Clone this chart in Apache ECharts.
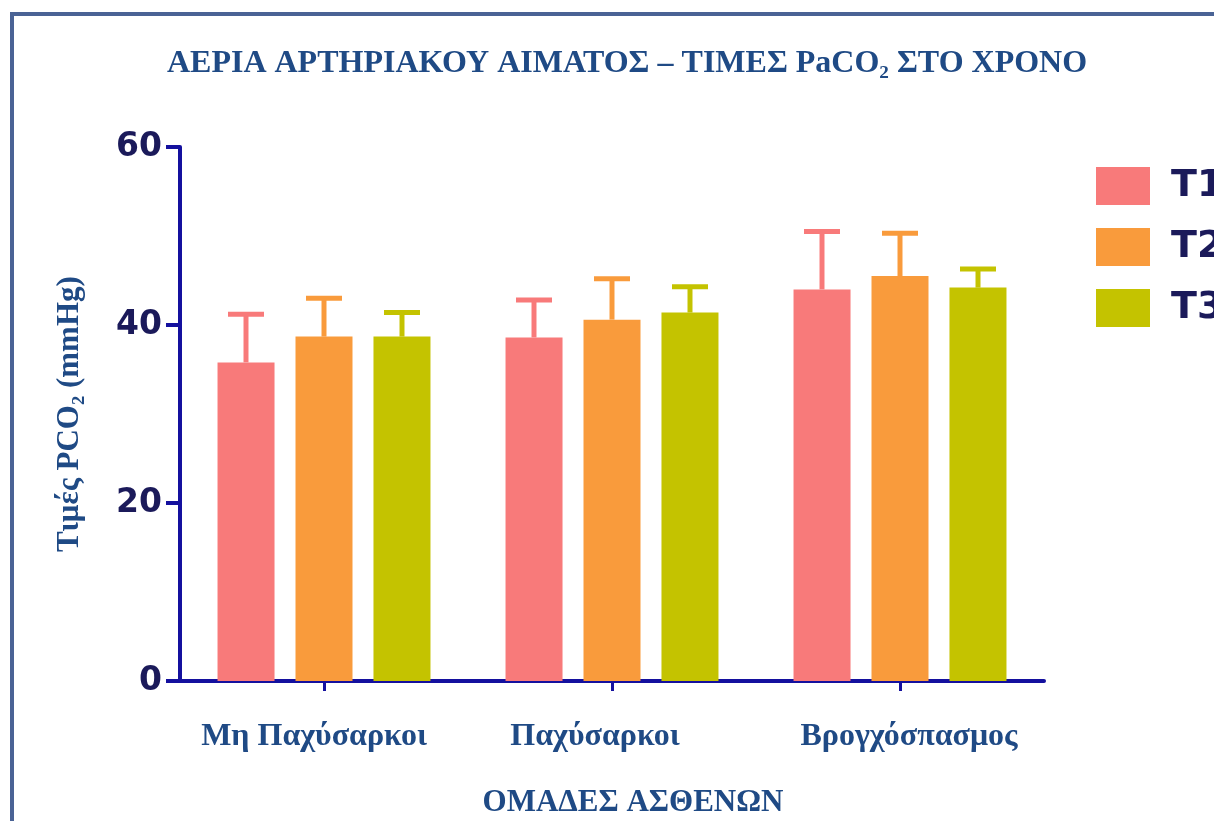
<!DOCTYPE html>
<html>
<head>
<meta charset="utf-8">
<style>
html,body{margin:0;padding:0;background:#fff;}
#chart{width:1214px;height:821px;}
</style>
<script src="https://cdn.jsdelivr.net/npm/echarts@6/dist/echarts.min.js"></script>
</head>
<body>
<div id="chart"></div>
<script>
const categories = ['Μη Παχύσαρκοι', 'Παχύσαρκοι', 'Βρογχόσπασμος'];
const seriesNames = ['T1', 'T2', 'T3'];
const t1Values = [35.8, 38.6, 44.0];
const t2Values = [38.7, 40.6, 45.5];
const t3Values = [38.7, 41.4, 44.2];
const t1Errors = [5.4, 4.2, 6.5];
const t2Errors = [4.3, 4.6, 4.8];
const t3Errors = [2.7, 2.9, 2.1];
const yTicks = [0, 20, 40, 60];

const colors = ['#F87A7A', '#F99B3C', '#C4C300'];
const values = [t1Values, t2Values, t3Values];
const errors = [t1Errors, t2Errors, t3Errors];
const textBlue = '#1F4A85';
const axisBlue = '#14109E';
const tickNavy = '#1B1A5A';

const BAR_W = 57;
const BAR_GAP = 21;
const labelShift = [-10, -17, 9];

const chart = echarts.init(document.getElementById('chart'), null, {renderer: 'canvas'});

const barSeries = seriesNames.map((name, i) => ({
  name: name,
  type: 'bar',
  data: values[i],
  barWidth: BAR_W,
  barGap: (BAR_GAP / BAR_W * 100).toFixed(1) + '%',
  itemStyle: {color: colors[i]},
  z: 2
}));

const errSeries = seriesNames.map((name, i) => ({
  name: name + ' err',
  type: 'custom',
  z: 3,
  data: values[i].map((v, k) => [k, v, errors[i][k]]),
  renderItem: function (params, api) {
    const x = api.value(0);
    const v = api.value(1);
    const e = api.value(2);
    const offset = (i - 1) * (BAR_W + BAR_GAP);
    const base = api.coord([x, v]);
    const top = api.coord([x, v + e]);
    const cx = base[0] + offset;
    const capHalf = 18;
    return {
      type: 'group',
      children: [
        {type: 'line', shape: {x1: cx, y1: base[1], x2: cx, y2: top[1]},
         style: {stroke: colors[i], lineWidth: 5}},
        {type: 'line', shape: {x1: cx - capHalf, y1: top[1], x2: cx + capHalf, y2: top[1]},
         style: {stroke: colors[i], lineWidth: 5}}
      ]
    };
  }
}));

const catData = categories.map((c, k) => ({
  value: c,
  textStyle: {padding: labelShift[k] < 0 ? [0, -2 * labelShift[k], 0, 0] : [0, 0, 0, 2 * labelShift[k]]}
}));

chart.setOption({
  animation: false,
  backgroundColor: '#ffffff',
  title: {
    text: 'ΑΕΡΙΑ ΑΡΤΗΡΙΑΚΟΥ ΑΙΜΑΤΟΣ – ΤΙΜΕΣ PaCO₂ ΣΤΟ ΧΡΟΝΟ',
    left: 622, top: 43, textAlign: 'center',
    textStyle: {fontFamily: 'Liberation Serif', fontWeight: 'bold', fontSize: 32, color: textBlue}
  },
  graphic: [
    {type: 'rect', shape: {x: 10, y: 12, width: 1204, height: 4}, style: {fill: '#4A6395'}},
    {type: 'rect', shape: {x: 10, y: 12, width: 4, height: 809}, style: {fill: '#4A6395'}}
  ],
  legend: {
    data: seriesNames,
    orient: 'vertical',
    left: 1091, top: 162,
    itemWidth: 54, itemHeight: 38, itemGap: 23,
    icon: 'rect',
    textStyle: {fontFamily: 'DejaVu Sans', fontWeight: 'bold', fontSize: 38, color: tickNavy, padding: [0, 0, 0, 16]}
  },
  grid: {left: 180, right: 170, top: 147, bottom: 140, containLabel: false, outerBoundsMode: 'none'},
  xAxis: {
    type: 'category',
    data: catData,
    name: 'ΟΜΑΔΕΣ ΑΣΘΕΝΩΝ',
    nameLocation: 'middle',
    nameGap: 106,
    nameTextStyle: {fontFamily: 'Liberation Serif', fontWeight: 'bold', fontSize: 31, color: textBlue, padding: [0, 0, 0, 42]},
    axisLine: {lineStyle: {color: axisBlue, width: 4}},
    axisTick: {show: true, alignWithLabel: true, length: 10, lineStyle: {color: axisBlue, width: 3}},
    axisLabel: {interval: 0, hideOverlap: false, margin: 40, fontFamily: 'Liberation Serif', fontWeight: 'bold', fontSize: 32, color: textBlue},
    splitLine: {show: false}
  },
  yAxis: {
    type: 'value',
    min: 0, max: 60, interval: 20,
    name: 'Τιμές PCO₂ (mmHg)',
    nameLocation: 'middle',
    nameGap: 95,
    nameRotate: 90,
    nameTextStyle: {fontFamily: 'Liberation Serif', fontWeight: 'bold', fontSize: 31, color: textBlue},
    axisLine: {show: true, lineStyle: {color: axisBlue, width: 4}},
    axisTick: {show: true, length: 14, lineStyle: {color: axisBlue, width: 4}},
    axisLabel: {
      margin: 18, fontFamily: 'DejaVu Sans', fontWeight: 'bold', fontSize: 33, color: tickNavy,
      formatter: v => yTicks.includes(v) ? String(v) : ''
    },
    splitLine: {show: false}
  },
  series: barSeries.concat(errSeries)
});
</script>
</body>
</html>
